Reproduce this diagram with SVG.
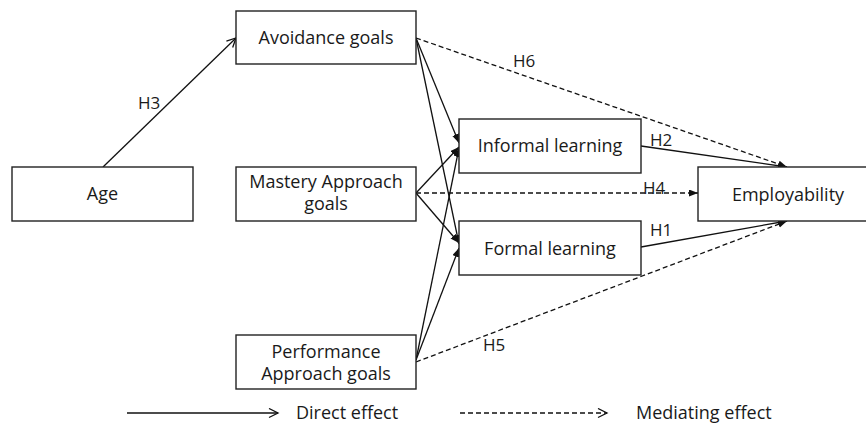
<svg xmlns="http://www.w3.org/2000/svg" width="866" height="425" viewBox="0 0 866 425">
<style>
.box{fill:#fff;stroke:#222;stroke-width:1.4}
.t{font-family:"Open Sans","Liberation Sans",sans-serif;font-size:18px;fill:#1a1a1a;text-anchor:middle}
.lb{font-family:"Open Sans","Liberation Sans",sans-serif;font-size:17px;fill:#1a1a1a}
.c{fill:none;stroke:#111;stroke-width:1.3}
.d{stroke-dasharray:5,3}
</style>
<defs>
<marker id="fa" markerUnits="userSpaceOnUse" markerWidth="10" markerHeight="8" refX="9" refY="3.5" orient="auto">
<path d="M0,0 L9,3.5 L0,7 z" fill="#111"/>
</marker>
<marker id="oa" markerUnits="userSpaceOnUse" markerWidth="12" markerHeight="12" refX="10" refY="5" orient="auto">
<path d="M1,0.5 L10,5 L1,9.5" fill="none" stroke="#111" stroke-width="1.3"/>
</marker>
</defs>
<rect width="866" height="425" fill="#fff"/>
<g id="connectors">
<path class="c" d="M103,167 L236,38" marker-end="url(#oa)"/>
<path class="c" d="M416,38 L459,143" marker-end="url(#fa)"/>
<path class="c" d="M416,38 L459,244" marker-end="url(#fa)"/>
<path class="c" d="M416,193 L459,147" marker-end="url(#fa)"/>
<path class="c" d="M416,193 L459,243" marker-end="url(#fa)"/>
<path class="c" d="M416,360 L459,148" marker-end="url(#fa)"/>
<path class="c" d="M416,360 L459,248" marker-end="url(#fa)"/>
<path class="c" d="M641,146 L787,167" marker-end="url(#fa)"/>
<path class="c" d="M641,247 L787,221" marker-end="url(#fa)"/>
<path class="c d" d="M416,38 L787,167" marker-end="url(#fa)"/>
<path class="c d" d="M416,193 L698,193" marker-end="url(#fa)"/>
<path class="c d" d="M416,362 L787,221" marker-end="url(#fa)"/>
<text class="lb" x="138" y="109">H3</text>
<text class="lb" x="513" y="67">H6</text>
<text class="lb" x="650" y="146">H2</text>
<text class="lb" x="643" y="194">H4</text>
<text class="lb" x="650" y="236">H1</text>
<text class="lb" x="483" y="351">H5</text>
</g>
<g id="age"><rect class="box" x="12" y="167" width="181" height="54"/><text class="t" x="102.5" y="200">Age</text></g>
<g id="avoidance"><rect class="box" x="236" y="11" width="180" height="53"/><text class="t" x="326" y="44">Avoidance goals</text></g>
<g id="mastery"><rect class="box" x="236" y="167" width="180" height="54"/><text class="t" x="326" y="188">Mastery Approach</text><text class="t" x="326" y="210">goals</text></g>
<g id="performance"><rect class="box" x="236" y="335" width="180" height="54"/><text class="t" x="326" y="358">Performance</text><text class="t" x="326" y="380">Approach goals</text></g>
<g id="informal"><rect class="box" x="459" y="119" width="182" height="54"/><text class="t" x="550" y="152">Informal learning</text></g>
<g id="formal"><rect class="box" x="459" y="221" width="182" height="54"/><text class="t" x="550" y="255">Formal learning</text></g>
<g id="employability"><rect class="box" x="698" y="167" width="180" height="54"/><text class="t" x="788" y="201">Employability</text></g>
<g id="legend">
<path class="c" d="M127,413 L278,413" marker-end="url(#oa)"/>
<text class="t" x="296" y="419" style="text-anchor:start">Direct effect</text>
<path class="c d" d="M460,413 L607,413" marker-end="url(#oa)"/>
<text class="t" x="636" y="419" style="text-anchor:start">Mediating effect</text>
</g>
</svg>
